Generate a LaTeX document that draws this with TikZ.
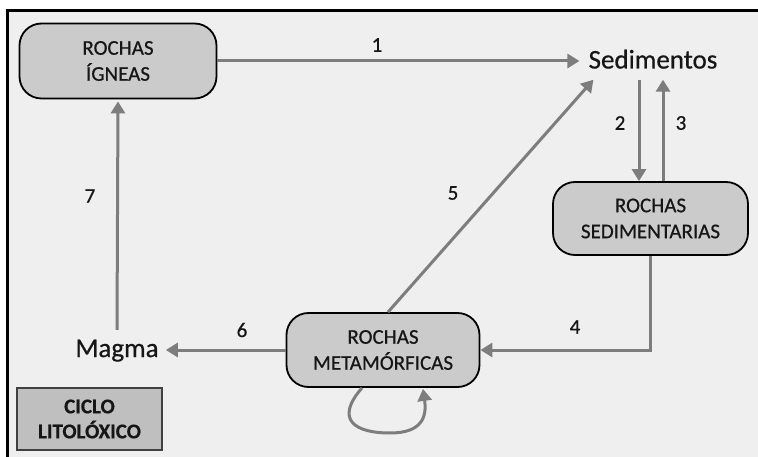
\documentclass[tikz,border=0pt]{standalone}
\usepackage{fontspec}
\setmainfont{Carlito}[FakeBold=0.6]
\usetikzlibrary{arrows.meta}
\definecolor{bgc}{HTML}{EFEFEF}
\definecolor{arrc}{HTML}{7D7D7D}
\definecolor{boxc}{HTML}{CBCBCB}
\definecolor{cicc}{HTML}{BFBFBF}
\definecolor{txtc}{HTML}{161616}
\tikzset{
  rockbox/.style={draw=black, line width=1.8pt, fill=boxc, rounded corners=22pt,
    align=center, text=txtc, font=\fontsize{21}{26}\selectfont, inner sep=0pt},
  arr/.style={draw=arrc, line width=3pt, -{Triangle[length=12pt,width=14pt]}},
  numlab/.style={text=txtc, font=\fontsize{21}{24}\selectfont},
  bigtxt/.style={text=txtc, font=\fontsize{27}{30}\selectfont, text height=18pt, text depth=6pt}
}
\begin{document}
\begin{tikzpicture}[x=1pt,y=-1pt]
\useasboundingbox (0,0) rectangle (758,457);
\fill[white] (0,0) rectangle (758,457);
\fill[bgc] (7,11) rectangle (758,457);
\draw[black, line width=3pt] (758,11) -- (7,11) -- (7,457);

\node[rockbox, minimum width=197pt, minimum height=75pt] (ign) at (118,61) {ROCHAS\\ÍGNEAS};
\node[rockbox, minimum width=195pt, minimum height=73pt] (sedr) at (650.5,218.5) {ROCHAS\\SEDIMENTARIAS};
\node[rockbox, minimum width=193pt, minimum height=74pt] (meta) at (383,350) {ROCHAS\\METAMÓRFICAS};
\node[bigtxt, inner xsep=9pt, inner ysep=5pt] (sed) at (653,62.5) {Sedimentos};
\node[bigtxt, inner xsep=7pt, inner ysep=9pt] (magma) at (117,351) {Magma};
\node[draw=black!75, line width=1.2pt, fill=cicc, minimum width=145pt, minimum height=62pt,
  align=center, text=txtc, font=\fontsize{21}{25}\selectfont\bfseries, inner sep=0pt] (ciclo) at (89.5,419) {CICLO\\LITOLÓXICO};

% arrows
\draw[arr] (ign.east) -- (ign.east -| sed.west);
\draw[arr] ([xshift=-11.5pt]sedr.north |- sed.south) -- ([xshift=-11.5pt]sedr.north);
\draw[arr] ([xshift=12.5pt]sedr.north) -- ([xshift=12.5pt]sedr.north |- sed.south);
\draw[arr] (sedr.south) -- (sedr.south |- meta.east) -- (meta.east);
\draw[arr] ([xshift=5pt]meta.north) -- ([xshift=14pt]sed.south west);
\draw[arr] (meta.west) -- (meta.west -| magma.east);
\draw[arr, shorten >=2pt] (magma.north) -- (ign.south);
\draw[arr] ([xshift=-21pt]meta.south) .. controls +(-28,32) and +(-35,0) .. (390,433)
   .. controls +(32,0) and +(4,28) .. ([xshift=40pt,yshift=-1pt]meta.south);

% labels
\node[numlab] (l1) at (377,45) {1};
\node[numlab] (l2) at (620,123) {2};
\node[numlab] (l3) at (681,123) {3};
\node[numlab] (l4) at (575,327) {4};
\node[numlab] (l5) at (453,193) {5};
\node[numlab] (l6) at (242,330) {6};
\node[numlab] (l7) at (90,196) {7};
\end{tikzpicture}
\end{document}
